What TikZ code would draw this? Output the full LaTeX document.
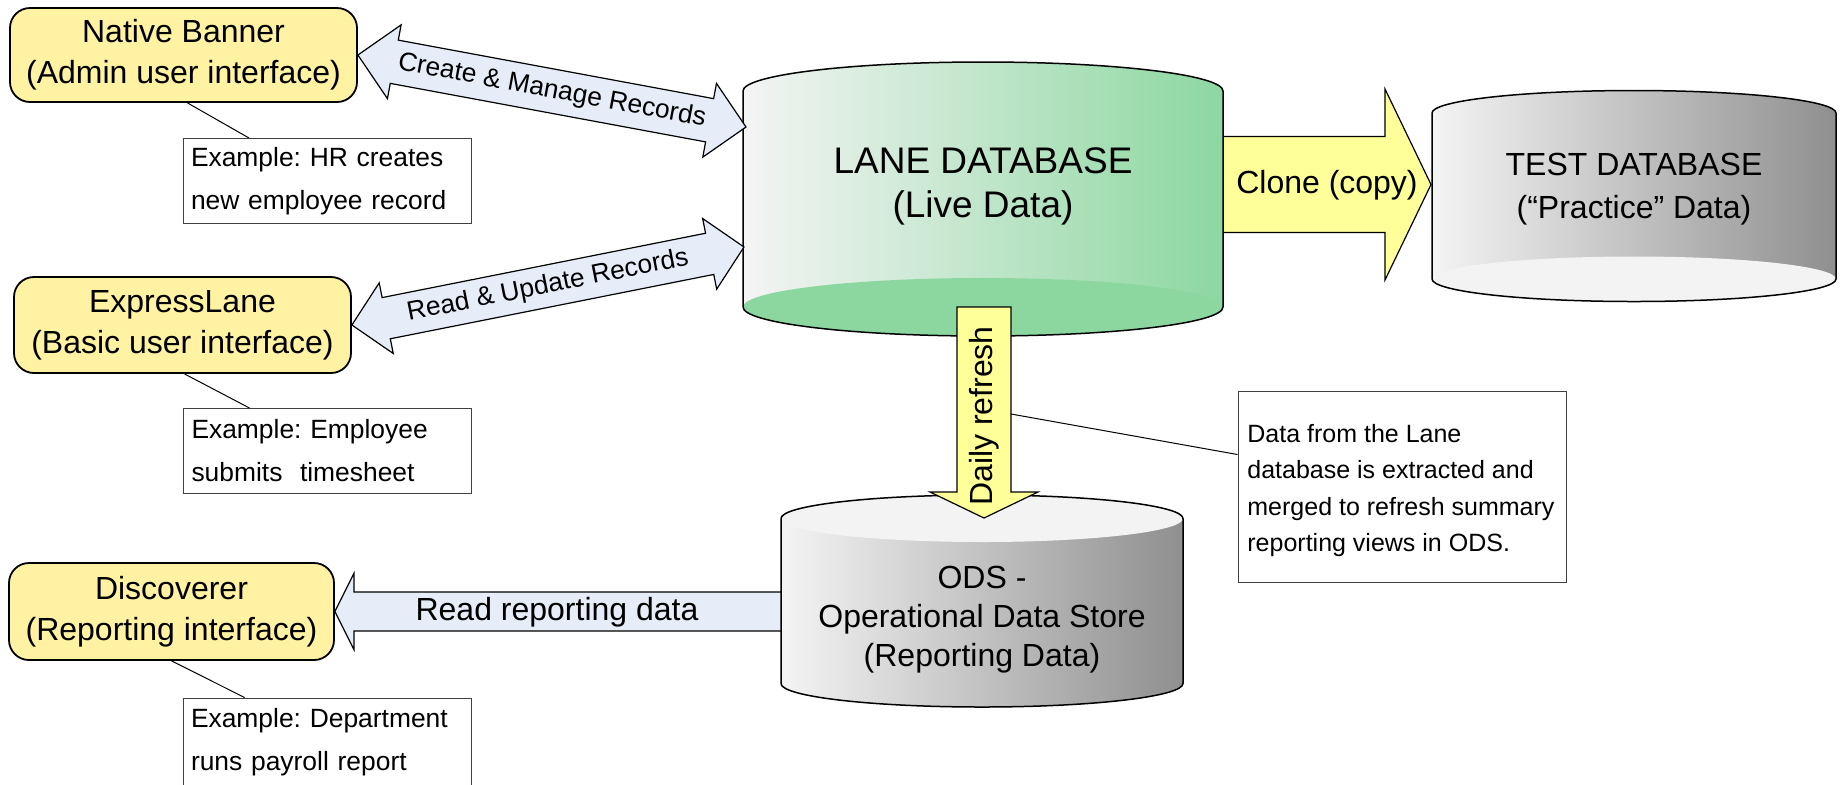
\documentclass[tikz,border=0pt]{standalone}
\usepackage{fontspec}
\setmainfont{Liberation Sans}
\usetikzlibrary{calc}
\frenchspacing
\definecolor{yboxc}{HTML}{FFF2A3}
\definecolor{barrow}{HTML}{E6EDF8}
\definecolor{yarrow}{HTML}{FFFF99}
\definecolor{cylL}{HTML}{F4F4F4}
\definecolor{laneR}{HTML}{8CD7A0}
\definecolor{grayR}{HTML}{8F8F8F}
\definecolor{faceL}{HTML}{F3F3F3}
\newcommand{\dblblockarrow}[6]{%
  \draw[#1] (#2)
    -- ($(#2)!#4!(#3)!#5!90:(#3)$)
    -- ($(#2)!#4!(#3)!#6!90:(#3)$)
    -- ($(#3)!#4!(#2)!#6!-90:(#2)$)
    -- ($(#3)!#4!(#2)!#5!-90:(#2)$)
    -- (#3)
    -- ($(#3)!#4!(#2)!#5!90:(#2)$)
    -- ($(#3)!#4!(#2)!#6!90:(#2)$)
    -- ($(#2)!#4!(#3)!#6!-90:(#3)$)
    -- ($(#2)!#4!(#3)!#5!-90:(#3)$)
    -- cycle;}
\newcommand{\sglblockarrow}[6]{%
  \draw[#1] (#2)
    -- ($(#2)!#4!(#3)!#5!90:(#3)$)
    -- ($(#2)!#4!(#3)!#6!90:(#3)$)
    -- ($(#3)!#6!-90:(#2)$)
    -- ($(#3)!#6!90:(#2)$)
    -- ($(#2)!#4!(#3)!#6!-90:(#3)$)
    -- ($(#2)!#4!(#3)!#5!-90:(#3)$)
    -- cycle;}
\begin{document}
\begin{tikzpicture}[x=0.5pt,y=-0.5pt,
  ybox/.style={draw, line width=0.9pt, fill=yboxc, rounded corners=10pt, align=center,
    font=\fontsize{16pt}{20.5pt}\selectfont, inner sep=0pt},
  exbox/.style={draw=black!75, line width=0.5pt, fill=white, align=left, text width=136pt,
    inner xsep=4pt, inner ysep=0pt, minimum width=144pt, minimum height=42.5pt,
    font=\fontsize{13.2pt}{21.5pt}\selectfont},
  notebox/.style={draw=black!75, line width=0.5pt, fill=white},
  notetext/.style={align=left, inner sep=0pt, font=\fontsize{12.5pt}{18.2pt}\selectfont},
  blockarrow/.style={draw, line width=0.6pt, fill=barrow, line join=miter},
  yblockarrow/.style={draw, line width=0.6pt, fill=yarrow, line join=miter},
  arrowtext/.style={inner sep=0pt, font=\fontsize{13.2pt}{15pt}\selectfont},
  bigtext/.style={inner sep=0pt, font=\fontsize{16pt}{19pt}\selectfont},
  dbtext/.style={inner sep=0pt, align=center},
  cylline/.style={draw, line width=0.75pt},
  thinline/.style={draw, line width=0.5pt}
]
\useasboundingbox (0,0) rectangle (1843,784);

% ---- Clone arrow (behind LANE)
\coordinate (clTail) at (1215,184.5);
\coordinate (clTip) at (1431,184.5);
\sglblockarrow{yblockarrow}{clTip}{clTail}{23pt}{47.75pt}{24pt}
\node[bigtext] (cltext) at (1327,185) {Clone (copy)};

% ---- LANE DATABASE
\shade[left color=cylL, right color=laneR] (743,91)
  arc[start angle=180, end angle=0, x radius=120pt, y radius=14.5pt]
  -- (1223,307) arc[start angle=0, end angle=-180, x radius=120pt, y radius=14.5pt] -- cycle;
\fill[laneR] (983,307) ellipse[x radius=120pt, y radius=14.5pt];
\draw[cylline] (743,91)
  arc[start angle=180, end angle=0, x radius=120pt, y radius=14.5pt]
  -- (1223,307) arc[start angle=0, end angle=-180, x radius=120pt, y radius=14.5pt] -- cycle;
\node[dbtext, font=\fontsize{18.5pt}{22pt}\selectfont] (lane) at (983,186) {LANE DATABASE\\(Live Data)};

% ---- TEST DATABASE
\shade[left color=cylL, right color=grayR] (1432,113)
  arc[start angle=180, end angle=0, x radius=101pt, y radius=11.25pt]
  -- (1836,279) arc[start angle=0, end angle=-180, x radius=101pt, y radius=11.25pt] -- cycle;
\fill[faceL] (1634,279) ellipse[x radius=101pt, y radius=11.25pt];
\draw[cylline] (1432,113)
  arc[start angle=180, end angle=0, x radius=101pt, y radius=11.25pt]
  -- (1836,279) arc[start angle=0, end angle=-180, x radius=101pt, y radius=11.25pt] -- cycle;
\node[dbtext, font=\fontsize{16pt}{21.5pt}\selectfont] (test) at (1634,189.5) {TEST DATABASE\\(“Practice” Data)};

% ---- interface boxes
\node[ybox, minimum width=173.5pt, minimum height=47pt] (nb) at (183.5,55) {Native Banner\\(Admin user interface)};
\node[ybox, minimum width=168.5pt, minimum height=48pt] (el) at (182.5,325) {ExpressLane\\(Basic user interface)};
\node[ybox, minimum width=162.5pt, minimum height=48.5pt] (disc) at (171.5,611.5) {Discoverer\\(Reporting interface)};

% ---- Read reporting data arrow (behind ODS)
\coordinate (rrTail) at (792,611.5);
\sglblockarrow{blockarrow}{disc.east}{rrTail}{9.5pt}{19pt}{9.75pt}
\node[bigtext] (rrtext) at (557,612) {Read reporting data};

% ---- ODS
\shade[left color=cylL, right color=grayR] (781,518.5)
  arc[start angle=180, end angle=0, x radius=100.5pt, y radius=11.75pt]
  -- (1183,683.5) arc[start angle=0, end angle=-180, x radius=100.5pt, y radius=11.75pt] -- cycle;
\fill[faceL] (982,518.5) ellipse[x radius=100.5pt, y radius=11.75pt];
\draw[cylline] (781,518.5)
  arc[start angle=180, end angle=0, x radius=100.5pt, y radius=11.75pt]
  -- (1183,683.5) arc[start angle=0, end angle=-180, x radius=100.5pt, y radius=11.75pt] -- cycle;
\node[dbtext, font=\fontsize{16pt}{19.5pt}\selectfont] (ods) at (982,619.5) {ODS -\\Operational Data Store\\(Reporting Data)};

% ---- Daily refresh arrow
\coordinate (drTail) at (984,307);
\coordinate (drTip) at (984,518);
\sglblockarrow{yblockarrow}{drTip}{drTail}{13pt}{27pt}{13.5pt}
\node[bigtext, rotate=90] (drtext) at (984,416) {Daily refresh};
\coordinate (drR) at (1011,414);

% ---- Create / Read & Update arrows
\coordinate (lc1) at (746,127);
\coordinate (lc2) at (744,247);
\dblblockarrow{blockarrow}{nb.east}{lc1}{18.5pt}{18.75pt}{11pt}
\dblblockarrow{blockarrow}{el.east}{lc2}{17.5pt}{18pt}{10.5pt}
\path (nb.east) -- (lc1) node[midway, sloped, arrowtext] (cmtext) {Create \& Manage Records};
\path (el.east) -- (lc2) node[midway, sloped, arrowtext] (rutext) {Read \& Update Records};

% ---- example boxes
\node[exbox] (ex1) at (327,181) {Example: HR creates\\new employee record};
\node[exbox] (ex2) at (327.5,451) {Example: Employee\\submits\ \ timesheet};
\node[exbox, minimum height=44.5pt] (ex3) at (327,742.5) {Example: Department\\runs payroll report};
\draw[thinline] ($(nb.south)+(4,0)$) -- ($(ex1.north west)!0.23!(ex1.north east)$);
\draw[thinline] ($(el.south)+(2,0)$) -- ($(ex2.north west)!0.23!(ex2.north east)$);
\draw[thinline] (disc.south) -- ($(ex3.north west)!0.215!(ex3.north east)$);

% ---- note box
\node[notebox, minimum width=164pt, minimum height=95.5pt, inner sep=0pt] (note) at (1402,486.5) {};
\node[notetext, anchor=north west] (notetxt) at (1247,424) {Data from the Lane\\database is extracted and\\merged to refresh summary\\reporting views in ODS.};
\draw[thinline] (drR) -- ($(note.north west)+(0,64)$);
\end{tikzpicture}
\end{document}
